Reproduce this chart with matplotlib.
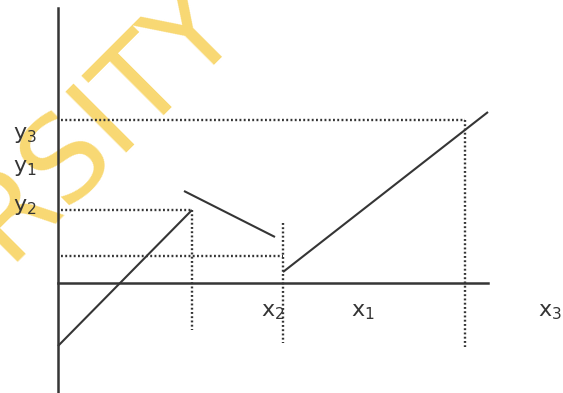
import matplotlib
matplotlib.use("Agg")
import matplotlib.pyplot as plt

# Data (origin at axis intersection)
seg1_x = [0, 134]
seg1_y = [-63, 73]
seg2_x = [126, 217]
seg2_y = [92, 46]
seg3_x = [225, 430]
seg3_y = [11, 171]

# dotted guides
y3_level = 163
y2_level = 73
low_level = 27
x_peak = 134
x2_pos = 225
x3_pos = 407

y_labels = ["y$_3$", "y$_1$", "y$_2$"]
y_label_pos = [148, 115, 76]
x_labels = ["x$_2$", "x$_1$", "x$_3$"]
x_label_pos = [215, 305, 492]

ink = "#353535"
fig = plt.figure(figsize=(5.63, 3.93), dpi=100)
ax = fig.add_axes([0, 0, 1, 1])
ax.set_xlim(-58, 505)
ax.set_ylim(-110, 283)
ax.axis("off")

# watermark
ax.text(42, 162, "RSITY", rotation=45, fontsize=84, color="#f7d15a", alpha=0.85,
        ha="center", va="center", family="DejaVu Sans", zorder=0, clip_on=True)

# axes
ax.plot([0, 0], [-110, 275], color=ink, lw=1.8, zorder=3)
ax.plot([0, 430], [0, 0], color=ink, lw=1.8, zorder=3)

dot = dict(color=ink, lw=1.7, linestyle=(0, (0.8, 1.0)), zorder=2)
ax.plot([3, x3_pos], [y3_level, y3_level], **dot)
ax.plot([3, x_peak], [y2_level, y2_level], **dot)
ax.plot([3, x2_pos], [low_level, low_level], **dot)
ax.plot([x_peak, x_peak], [y2_level, -47], **dot)
ax.plot([x2_pos, x2_pos], [60, -60], **dot)
ax.plot([x3_pos, x3_pos], [y3_level, -64], **dot)

solid = dict(color=ink, lw=1.5, zorder=3, solid_capstyle="butt")
ax.plot(seg1_x, seg1_y, **solid)
ax.plot(seg2_x, seg2_y, **solid)
ax.plot(seg3_x, seg3_y, **solid)

for lab, yp in zip(y_labels, y_label_pos):
    ax.text(-33, yp, lab, fontsize=16, color=ink, ha="center", va="center", family="DejaVu Sans")
for lab, xp in zip(x_labels, x_label_pos):
    ax.text(xp, -29, lab, fontsize=16, color=ink, ha="center", va="center", family="DejaVu Sans")

fig.savefig("out.png", dpi=100)
